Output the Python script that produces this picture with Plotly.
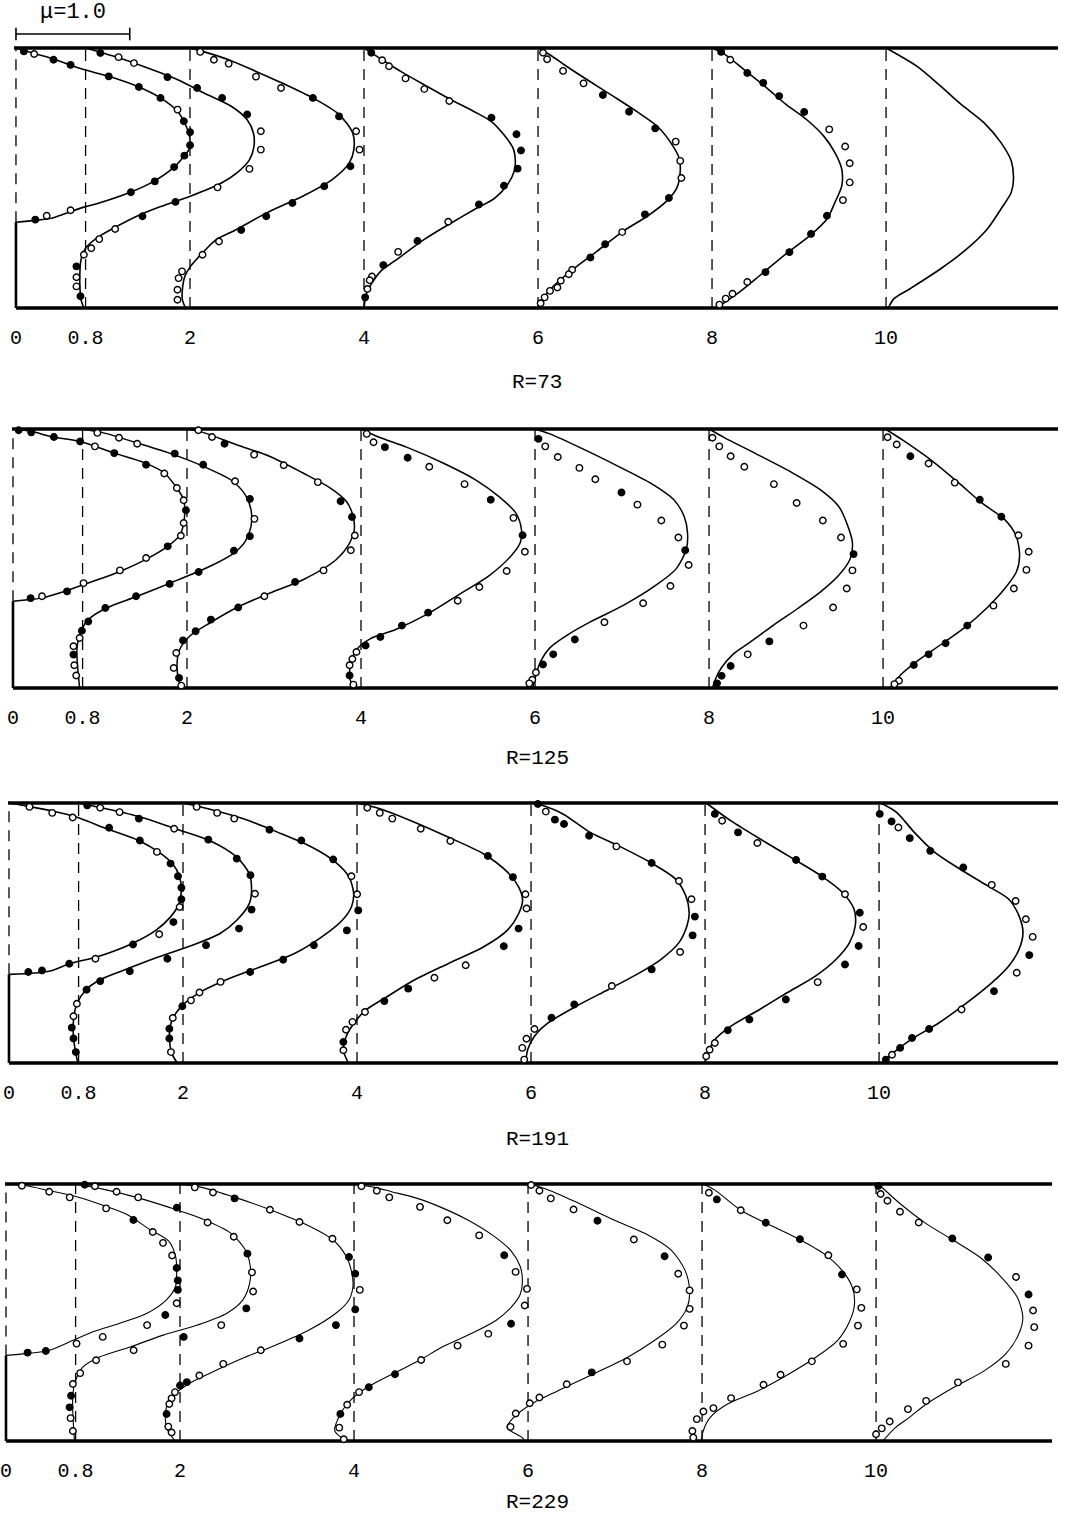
import plotly.graph_objects as go

# ---------------- data ----------------
STATIONS = [0, 0.8, 2, 4, 6, 8, 10]
TICK_TEXT = ["0", "0.8", "2", "4", "6", "8", "10"]
R_LABELS = ["R=73", "R=125", "R=191", "R=229"]
STEP_ETA = [0.33, 0.335, 0.341, 0.333]
MU_BAR = 1.0
MU_TEXT = "μ=1.0"

# ----- R=73 -----
R73_CURVE_ETA = [
    [0.33, 0.337, 0.346, 0.359, 0.388, 0.401, 0.445, 0.487, 0.542, 0.583, 0.609, 0.647, 0.70, 0.756, 0.808, 0.85, 0.891, 0.917, 0.955, 0.978, 1.0],
    [0, 0.032, 0.083, 0.135, 0.186, 0.23, 0.27, 0.308, 0.353, 0.39, 0.43, 0.48, 0.52, 0.57, 0.622, 0.673, 0.724, 0.776, 0.827, 0.878, 0.929, 0.968, 1.0],
    [0, 0.032, 0.07, 0.122, 0.16, 0.212, 0.263, 0.30, 0.365, 0.43, 0.494, 0.558, 0.609, 0.673, 0.744, 0.808, 0.865, 0.91, 0.955, 0.987, 1.0],
    [0, 0.054, 0.092, 0.143, 0.181, 0.264, 0.328, 0.379, 0.423, 0.474, 0.526, 0.564, 0.615, 0.666, 0.717, 0.755, 0.80, 0.851, 0.908, 0.966, 1.0],
    [0, 0.022, 0.073, 0.143, 0.219, 0.296, 0.353, 0.411, 0.462, 0.526, 0.577, 0.64, 0.698, 0.755, 0.812, 0.87, 0.927, 0.972, 1.0],
    [0, 0.017, 0.061, 0.125, 0.208, 0.278, 0.342, 0.406, 0.47, 0.534, 0.598, 0.662, 0.725, 0.783, 0.847, 0.91, 0.981, 1.0],
    [0, 0.036, 0.074, 0.151, 0.227, 0.304, 0.381, 0.444, 0.496, 0.566, 0.636, 0.713, 0.783, 0.853, 0.93, 1.0],
]
R73_CURVE_U = [
    [0, 0.17, 0.32, 0.405, 0.595, 0.71, 1.005, 1.21, 1.39, 1.475, 1.52, 1.53, 1.495, 1.42, 1.27, 1.08, 0.815, 0.595, 0.35, 0.17, 0],
    [-0.015, -0.04, -0.05, -0.05, -0.04, 0, 0.10, 0.25, 0.45, 0.66, 0.92, 1.19, 1.33, 1.44, 1.48, 1.475, 1.42, 1.28, 1.04, 0.81, 0.51, 0.25, 0],
    [-0.04, -0.067, -0.067, -0.045, 0.005, 0.11, 0.23, 0.40, 0.67, 0.99, 1.25, 1.40, 1.44, 1.43, 1.31, 1.08, 0.81, 0.58, 0.34, 0.11, 0],
    [0, 0.02, 0.064, 0.15, 0.27, 0.53, 0.77, 0.97, 1.15, 1.26, 1.32, 1.33, 1.31, 1.23, 1.12, 0.97, 0.77, 0.56, 0.33, 0.12, 0],
    [0, 0.023, 0.11, 0.29, 0.52, 0.75, 0.96, 1.13, 1.22, 1.25, 1.24, 1.16, 1.05, 0.87, 0.67, 0.46, 0.26, 0.11, 0],
    [0.035, 0.094, 0.24, 0.42, 0.65, 0.86, 1.01, 1.08, 1.14, 1.14, 1.08, 0.98, 0.83, 0.65, 0.48, 0.30, 0.094, 0],
    [0.02, 0.07, 0.21, 0.48, 0.71, 0.89, 1.01, 1.10, 1.12, 1.10, 1.01, 0.86, 0.66, 0.48, 0.27, 0],
]
R73_PT_ETA = [
    [0.987, 0.977, 0.955, 0.935, 0.891, 0.85, 0.808, 0.763, 0.718, 0.676, 0.626, 0.586, 0.542, 0.487, 0.445, 0.376, 0.355, 0.34],
    [0.981, 0.965, 0.942, 0.888, 0.846, 0.808, 0.744, 0.68, 0.609, 0.535, 0.464, 0.408, 0.353, 0.304, 0.265, 0.23, 0.205, 0.16, 0.118, 0.083, 0.045],
    [0.985, 0.955, 0.94, 0.89, 0.846, 0.808, 0.737, 0.68, 0.609, 0.545, 0.468, 0.404, 0.353, 0.30, 0.256, 0.205, 0.141, 0.115, 0.07, 0.032],
    [0.982, 0.953, 0.93, 0.883, 0.842, 0.796, 0.732, 0.668, 0.606, 0.536, 0.47, 0.398, 0.332, 0.258, 0.216, 0.165, 0.121, 0.107, 0.073, 0.041],
    [0.982, 0.957, 0.912, 0.864, 0.819, 0.755, 0.691, 0.64, 0.566, 0.50, 0.423, 0.36, 0.292, 0.245, 0.194, 0.147, 0.13, 0.105, 0.079, 0.066, 0.041, 0.018],
    [0.985, 0.955, 0.904, 0.866, 0.815, 0.754, 0.687, 0.621, 0.557, 0.483, 0.415, 0.355, 0.285, 0.215, 0.138, 0.10, 0.055, 0.036, 0.013],
    [],
]
R73_PT_U = [
    [0.07, 0.16, 0.33, 0.48, 0.815, 1.08, 1.27, 1.42, 1.475, 1.53, 1.53, 1.48, 1.39, 1.22, 1.01, 0.48, 0.27, 0.17],
    [0.13, 0.29, 0.425, 0.72, 0.98, 1.20, 1.42, 1.54, 1.54, 1.44, 1.16, 0.79, 0.50, 0.26, 0.12, 0.05, -0.015, -0.08, -0.08, -0.08, -0.045],
    [0.09, 0.21, 0.34, 0.58, 0.80, 1.08, 1.31, 1.46, 1.49, 1.41, 1.18, 0.90, 0.67, 0.45, 0.255, 0.11, -0.07, -0.10, -0.11, -0.11],
    [0.064, 0.16, 0.22, 0.365, 0.53, 0.75, 1.12, 1.34, 1.38, 1.35, 1.23, 1.01, 0.74, 0.47, 0.30, 0.17, 0.07, 0.05, 0.03, 0.01],
    [0.044, 0.08, 0.22, 0.40, 0.57, 0.80, 1.03, 1.21, 1.25, 1.26, 1.15, 0.94, 0.74, 0.59, 0.46, 0.30, 0.27, 0.20, 0.17, 0.105, 0.058, 0.023],
    [0.08, 0.16, 0.31, 0.45, 0.59, 0.81, 1.03, 1.17, 1.21, 1.21, 1.15, 1.01, 0.87, 0.68, 0.47, 0.31, 0.18, 0.12, 0.065],
    [],
]
R73_PT_KIND = [
    "fofffffofffffffoof",
    "fooffffooooffoooofoof",
    "oooooffoofffffoooooo",
    "foooooffffffofofooof",
    "oooofffoooffoffooooooo",
    "foffffoooooffffoooo",
    "",
]

# ----- R=125 -----
R125_CURVE_ETA = [
    [0.335, 0.341, 0.347, 0.373, 0.399, 0.45, 0.495, 0.547, 0.592, 0.637, 0.682, 0.727, 0.772, 0.83, 0.869, 0.907, 0.952, 0.969, 0.991, 1.0],
    [0, 0.084, 0.148, 0.212, 0.264, 0.309, 0.354, 0.405, 0.47, 0.521, 0.566, 0.624, 0.689, 0.746, 0.804, 0.856, 0.901, 0.946, 0.985, 1.0],
    [0, 0.019, 0.084, 0.148, 0.20, 0.251, 0.309, 0.367, 0.418, 0.495, 0.56, 0.611, 0.663, 0.721, 0.772, 0.83, 0.894, 0.94, 0.987, 1.0],
    [0, 0.013, 0.051, 0.097, 0.148, 0.19, 0.225, 0.282, 0.358, 0.435, 0.511, 0.562, 0.612, 0.676, 0.74, 0.803, 0.867, 0.93, 0.968, 1.0],
    [0, 0.053, 0.104, 0.155, 0.206, 0.256, 0.32, 0.396, 0.46, 0.536, 0.60, 0.663, 0.727, 0.79, 0.854, 0.924, 0.981, 1.0],
    [0, 0.028, 0.079, 0.13, 0.18, 0.244, 0.307, 0.371, 0.435, 0.498, 0.562, 0.625, 0.701, 0.765, 0.829, 0.905, 0.968, 1.0],
    [0, 0.053, 0.104, 0.168, 0.231, 0.308, 0.384, 0.447, 0.511, 0.587, 0.65, 0.714, 0.79, 0.879, 0.955, 1.0],
]
R125_CURVE_U = [
    [0, 0.13, 0.25, 0.45, 0.62, 0.94, 1.16, 1.36, 1.47, 1.50, 1.51, 1.50, 1.44, 1.33, 1.16, 0.89, 0.59, 0.35, 0.16, 0],
    [-0.026, -0.044, -0.05, -0.02, 0.05, 0.21, 0.48, 0.77, 1.12, 1.33, 1.43, 1.48, 1.48, 1.43, 1.30, 1.06, 0.80, 0.48, 0.185, 0],
    [-0.02, -0.065, -0.088, -0.065, 0.023, 0.20, 0.43, 0.73, 1.02, 1.31, 1.43, 1.47, 1.46, 1.40, 1.26, 1.02, 0.73, 0.43, 0.14, 0],
    [-0.05, -0.08, -0.10, -0.09, -0.04, 0.08, 0.30, 0.57, 0.85, 1.13, 1.32, 1.40, 1.41, 1.36, 1.21, 1.01, 0.73, 0.40, 0.16, 0],
    [-0.02, 0.01, 0.05, 0.13, 0.29, 0.49, 0.78, 1.06, 1.24, 1.33, 1.34, 1.31, 1.22, 1.02, 0.74, 0.415, 0.13, 0],
    [0.03, 0.05, 0.11, 0.21, 0.37, 0.57, 0.78, 0.98, 1.14, 1.24, 1.26, 1.22, 1.14, 0.98, 0.74, 0.41, 0.13, 0],
    [0.06, 0.16, 0.30, 0.51, 0.71, 0.91, 1.07, 1.17, 1.20, 1.17, 1.07, 0.87, 0.67, 0.425, 0.18, 0.02],
]
R125_PT_ETA = [
    [0.995, 0.987, 0.969, 0.952, 0.933, 0.907, 0.862, 0.828, 0.772, 0.725, 0.686, 0.637, 0.588, 0.547, 0.502, 0.454, 0.405, 0.373, 0.354, 0.347],
    [0.985, 0.966, 0.943, 0.905, 0.862, 0.798, 0.73, 0.653, 0.586, 0.53, 0.448, 0.402, 0.354, 0.309, 0.257, 0.221, 0.193, 0.161, 0.129, 0.088, 0.048],
    [0.995, 0.969, 0.943, 0.901, 0.86, 0.795, 0.721, 0.66, 0.589, 0.532, 0.454, 0.409, 0.354, 0.311, 0.264, 0.219, 0.184, 0.135, 0.077, 0.039, 0.009],
    [0.981, 0.949, 0.93, 0.889, 0.854, 0.787, 0.727, 0.657, 0.59, 0.526, 0.452, 0.39, 0.337, 0.291, 0.241, 0.197, 0.164, 0.139, 0.112, 0.088, 0.048, 0.013],
    [0.962, 0.933, 0.892, 0.85, 0.806, 0.755, 0.708, 0.647, 0.581, 0.532, 0.475, 0.394, 0.327, 0.254, 0.187, 0.13, 0.091, 0.06, 0.032, 0.018],
    [0.966, 0.933, 0.895, 0.854, 0.787, 0.714, 0.647, 0.581, 0.517, 0.454, 0.384, 0.311, 0.241, 0.18, 0.13, 0.085, 0.047, 0.018],
    [0.968, 0.94, 0.895, 0.867, 0.793, 0.727, 0.661, 0.59, 0.526, 0.456, 0.384, 0.318, 0.241, 0.173, 0.13, 0.089, 0.028, 0.015],
]
R125_PT_U = [
    [0.05, 0.16, 0.36, 0.59, 0.72, 0.89, 1.17, 1.33, 1.44, 1.50, 1.52, 1.50, 1.475, 1.36, 1.17, 0.94, 0.62, 0.475, 0.255, 0.155],
    [0.13, 0.32, 0.48, 0.81, 1.06, 1.34, 1.47, 1.51, 1.47, 1.33, 1.02, 0.765, 0.47, 0.20, 0.05, -0.006, -0.026, -0.08, -0.08, -0.073, -0.056],
    [0.10, 0.22, 0.33, 0.59, 0.85, 1.15, 1.35, 1.45, 1.475, 1.44, 1.20, 0.95, 0.68, 0.45, 0.21, 0.076, -0.035, -0.094, -0.117, -0.07, -0.05],
    [0.05, 0.11, 0.21, 0.41, 0.60, 0.91, 1.14, 1.34, 1.42, 1.44, 1.28, 1.04, 0.85, 0.59, 0.36, 0.17, 0.04, -0.04, -0.076, -0.10, -0.10, -0.067],
    [0.03, 0.09, 0.20, 0.39, 0.53, 0.76, 0.90, 1.11, 1.26, 1.32, 1.35, 1.19, 0.95, 0.61, 0.35, 0.16, 0.07, 0.008, -0.024, -0.05],
    [0.03, 0.09, 0.19, 0.31, 0.57, 0.77, 1.00, 1.16, 1.27, 1.26, 1.21, 1.09, 0.83, 0.53, 0.34, 0.19, 0.11, 0.07],
    [0.04, 0.12, 0.24, 0.40, 0.63, 0.85, 1.04, 1.19, 1.28, 1.26, 1.15, 0.97, 0.74, 0.55, 0.40, 0.27, 0.14, 0.10],
]
R125_PT_KIND = [
    "ffffoffooofoofooofof",
    "oooffofoffffffffoofoo",
    "oofoooffooofoffffoofo",
    "ooffoofofooooffffooofo",
    "foooofooofoooofffooo",
    "oooooooofoooofofff",
    "oofooffoooooffffoo",
]

# ----- R=191 -----
R191_CURVE_ETA = [
    [0.341, 0.346, 0.356, 0.382, 0.408, 0.459, 0.51, 0.562, 0.613, 0.664, 0.715, 0.765, 0.81, 0.856, 0.901, 0.946, 0.969, 0.987, 1.0],
    [0, 0.036, 0.1, 0.164, 0.228, 0.279, 0.318, 0.356, 0.408, 0.453, 0.497, 0.549, 0.613, 0.664, 0.728, 0.792, 0.856, 0.901, 0.946, 0.978, 1.0],
    [0, 0.036, 0.1, 0.164, 0.215, 0.267, 0.318, 0.369, 0.421, 0.485, 0.549, 0.6, 0.651, 0.715, 0.773, 0.831, 0.888, 0.94, 0.978, 1.0],
    [0, 0.049, 0.1, 0.151, 0.203, 0.254, 0.318, 0.382, 0.446, 0.51, 0.574, 0.626, 0.677, 0.735, 0.805, 0.869, 0.927, 0.978, 1.0],
    [0, 0.051, 0.103, 0.154, 0.219, 0.283, 0.341, 0.398, 0.463, 0.527, 0.578, 0.643, 0.707, 0.771, 0.835, 0.887, 0.958, 0.992, 1.0],
    [0, 0.039, 0.09, 0.141, 0.206, 0.27, 0.334, 0.398, 0.463, 0.527, 0.591, 0.655, 0.717, 0.784, 0.848, 0.932, 1.0],
    [0, 0.039, 0.09, 0.154, 0.231, 0.308, 0.373, 0.437, 0.501, 0.566, 0.63, 0.681, 0.746, 0.81, 0.887, 0.964, 1.0],
]
R191_CURVE_U = [
    [0, 0.23, 0.38, 0.53, 0.77, 1.08, 1.29, 1.42, 1.495, 1.515, 1.50, 1.44, 1.32, 1.14, 0.86, 0.59, 0.38, 0.17, 0],
    [-0.006, -0.024, -0.045, -0.045, -0.015, 0.06, 0.18, 0.39, 0.70, 1.0, 1.24, 1.39, 1.50, 1.52, 1.50, 1.39, 1.15, 0.85, 0.545, 0.24, 0],
    [-0.05, -0.097, -0.12, -0.097, -0.02, 0.13, 0.37, 0.675, 0.98, 1.22, 1.40, 1.48, 1.50, 1.46, 1.34, 1.13, 0.83, 0.525, 0.22, 0],
    [-0.076, -0.12, -0.097, -0.03, 0.076, 0.26, 0.50, 0.80, 1.11, 1.32, 1.42, 1.455, 1.42, 1.32, 1.11, 0.80, 0.50, 0.20, 0],
    [-0.046, -0.03, 0.03, 0.15, 0.40, 0.68, 0.93, 1.14, 1.30, 1.37, 1.39, 1.36, 1.27, 1.05, 0.77, 0.52, 0.28, 0.09, 0.015],
    [0, 0.025, 0.086, 0.225, 0.48, 0.72, 0.97, 1.15, 1.27, 1.32, 1.31, 1.21, 1.03, 0.78, 0.535, 0.225, 0.01],
    [0.03, 0.124, 0.28, 0.525, 0.77, 0.99, 1.14, 1.23, 1.265, 1.23, 1.14, 0.955, 0.71, 0.49, 0.31, 0.154, 0.015],
]
R191_PT_ETA = [
    [0.985, 0.962, 0.944, 0.905, 0.856, 0.812, 0.767, 0.718, 0.674, 0.63, 0.60, 0.542, 0.495, 0.456, 0.401, 0.382, 0.356, 0.35],
    [0.991, 0.982, 0.965, 0.94, 0.901, 0.859, 0.786, 0.722, 0.651, 0.59, 0.517, 0.453, 0.401, 0.353, 0.315, 0.282, 0.228, 0.18, 0.136, 0.094, 0.042],
    [0.985, 0.962, 0.94, 0.897, 0.856, 0.783, 0.718, 0.649, 0.587, 0.51, 0.453, 0.397, 0.35, 0.312, 0.271, 0.241, 0.218, 0.173, 0.132, 0.094, 0.042],
    [0.982, 0.962, 0.94, 0.901, 0.854, 0.796, 0.715, 0.649, 0.594, 0.517, 0.449, 0.376, 0.328, 0.286, 0.238, 0.196, 0.158, 0.128, 0.081, 0.049],
    [0.996, 0.967, 0.936, 0.919, 0.874, 0.833, 0.769, 0.70, 0.63, 0.563, 0.491, 0.427, 0.36, 0.296, 0.225, 0.174, 0.131, 0.093, 0.058, 0.013],
    [0.958, 0.932, 0.887, 0.846, 0.781, 0.717, 0.649, 0.578, 0.523, 0.45, 0.379, 0.311, 0.244, 0.167, 0.126, 0.077, 0.051, 0.026],
    [0.958, 0.929, 0.906, 0.865, 0.816, 0.752, 0.685, 0.623, 0.553, 0.485, 0.415, 0.347, 0.276, 0.206, 0.131, 0.096, 0.058, 0.032, 0.013],
]
R191_PT_U = [
    [0.18, 0.38, 0.56, 0.88, 1.15, 1.30, 1.42, 1.485, 1.515, 1.515, 1.50, 1.445, 1.32, 1.09, 0.76, 0.53, 0.29, 0.17],
    [0.076, 0.19, 0.36, 0.53, 0.84, 1.14, 1.39, 1.51, 1.55, 1.52, 1.41, 1.12, 0.78, 0.45, 0.19, 0.07, -0.015, -0.045, -0.06, -0.045, -0.024],
    [0.12, 0.30, 0.45, 0.76, 1.04, 1.32, 1.48, 1.53, 1.54, 1.44, 1.15, 0.88, 0.59, 0.33, 0.145, 0.07, -0.006, -0.09, -0.12, -0.12, -0.106],
    [0.09, 0.20, 0.31, 0.56, 0.82, 1.15, 1.37, 1.48, 1.49, 1.42, 1.29, 0.955, 0.68, 0.45, 0.24, 0.07, -0.04, -0.097, -0.12, -0.12],
    [0.06, 0.13, 0.21, 0.29, 0.51, 0.75, 1.06, 1.30, 1.41, 1.44, 1.42, 1.31, 1.06, 0.71, 0.38, 0.18, 0.03, -0.04, -0.077, -0.06],
    [0.086, 0.15, 0.29, 0.46, 0.80, 1.03, 1.23, 1.36, 1.39, 1.35, 1.23, 0.99, 0.71, 0.39, 0.20, 0.086, 0.04, 0.01],
    [0.006, 0.11, 0.17, 0.27, 0.45, 0.74, 0.99, 1.20, 1.29, 1.35, 1.32, 1.21, 1.01, 0.725, 0.44, 0.29, 0.185, 0.114, 0.06],
]
R191_PT_KIND = [
    "oooffoffffofofofff",
    "foofofffofffffffoofff",
    "ooofffoofffffooofoffo",
    "oooooffooffooffooofo",
    "fofffofooffofoffoooo",
    "fofoffofoffofffooo",
    "ffofffoooofofofffof",
]

# ----- R=229 -----
R229_CURVE_ETA = [
    [0.333, 0.34, 0.353, 0.392, 0.425, 0.458, 0.497, 0.549, 0.601, 0.654, 0.719, 0.778, 0.824, 0.882, 0.922, 0.954, 0.974, 0.993, 1.0],
    [0, 0.105, 0.183, 0.235, 0.288, 0.327, 0.366, 0.412, 0.451, 0.497, 0.549, 0.614, 0.68, 0.745, 0.81, 0.863, 0.908, 0.948, 0.98, 1.0],
    [0, 0.052, 0.118, 0.17, 0.222, 0.261, 0.32, 0.373, 0.431, 0.497, 0.549, 0.601, 0.654, 0.719, 0.784, 0.85, 0.902, 0.948, 0.987, 1.0],
    [0, 0.04, 0.105, 0.144, 0.183, 0.22, 0.27, 0.315, 0.365, 0.42, 0.47, 0.52, 0.57, 0.62, 0.68, 0.74, 0.80, 0.86, 0.91, 0.945, 0.97, 0.987, 1.0],
    [0, 0.013, 0.052, 0.091, 0.143, 0.195, 0.26, 0.326, 0.391, 0.456, 0.521, 0.586, 0.664, 0.742, 0.807, 0.859, 0.924, 0.977, 1.0],
    [0, 0.039, 0.091, 0.143, 0.195, 0.26, 0.326, 0.391, 0.469, 0.534, 0.599, 0.664, 0.729, 0.788, 0.846, 0.898, 0.977, 1.0],
    [0, 0.052, 0.091, 0.143, 0.208, 0.273, 0.339, 0.417, 0.482, 0.56, 0.638, 0.716, 0.781, 0.846, 0.924, 1.0],
]
R229_CURVE_U = [
    [0, 0.176, 0.38, 0.59, 0.765, 1.0, 1.24, 1.41, 1.49, 1.50, 1.49, 1.43, 1.26, 1.06, 0.82, 0.59, 0.38, 0.18, 0],
    [-0.01, -0.024, -0.024, 0, 0.065, 0.21, 0.48, 0.77, 1.07, 1.33, 1.47, 1.53, 1.535, 1.49, 1.36, 1.12, 0.83, 0.535, 0.24, 0],
    [-0.044, -0.118, -0.126, -0.074, 0.074, 0.25, 0.54, 0.84, 1.13, 1.37, 1.485, 1.52, 1.51, 1.46, 1.34, 1.07, 0.78, 0.485, 0.19, 0],
    [-0.07, -0.17, -0.12, -0.06, 0.03, 0.16, 0.38, 0.58, 0.77, 1.04, 1.25, 1.38, 1.46, 1.48, 1.46, 1.38, 1.22, 1.0, 0.76, 0.55, 0.33, 0.18, 0],
    [-0.03, -0.05, -0.185, -0.127, 0.027, 0.26, 0.57, 0.876, 1.11, 1.30, 1.40, 1.42, 1.38, 1.26, 1.03, 0.76, 0.45, 0.18, 0.008],
    [-0.008, 0.01, 0.07, 0.22, 0.49, 0.76, 1.00, 1.19, 1.30, 1.34, 1.32, 1.23, 1.07, 0.84, 0.57, 0.34, 0.11, 0.01],
    [0.06, 0.17, 0.29, 0.44, 0.68, 0.95, 1.14, 1.255, 1.29, 1.24, 1.10, 0.91, 0.68, 0.44, 0.21, 0.02],
]
R229_PT_ETA = [
    [0.993, 0.97, 0.948, 0.905, 0.86, 0.813, 0.771, 0.722, 0.673, 0.625, 0.588, 0.536, 0.49, 0.451, 0.405, 0.379, 0.35, 0.344],
    [0.997, 0.991, 0.97, 0.948, 0.908, 0.85, 0.795, 0.729, 0.656, 0.582, 0.516, 0.451, 0.405, 0.353, 0.314, 0.264, 0.222, 0.176, 0.131, 0.089, 0.039],
    [0.987, 0.967, 0.944, 0.90, 0.852, 0.787, 0.716, 0.651, 0.588, 0.512, 0.451, 0.399, 0.353, 0.30, 0.255, 0.229, 0.216, 0.19, 0.166, 0.144, 0.105, 0.056, 0.033],
    [0.991, 0.974, 0.948, 0.911, 0.859, 0.80, 0.723, 0.658, 0.592, 0.527, 0.456, 0.417, 0.371, 0.315, 0.26, 0.209, 0.19, 0.141, 0.105, 0.052, 0.007],
    [0.996, 0.974, 0.944, 0.901, 0.857, 0.784, 0.719, 0.651, 0.586, 0.514, 0.449, 0.375, 0.31, 0.267, 0.221, 0.169, 0.147, 0.107, 0.055],
    [0.966, 0.94, 0.898, 0.849, 0.785, 0.723, 0.648, 0.59, 0.518, 0.449, 0.378, 0.31, 0.258, 0.219, 0.167, 0.128, 0.115, 0.085, 0.039, 0.013],
    [0.992, 0.961, 0.935, 0.892, 0.85, 0.788, 0.714, 0.638, 0.57, 0.508, 0.443, 0.371, 0.30, 0.228, 0.156, 0.124, 0.076, 0.049, 0.026],
]
R229_PT_U = [
    [0.14, 0.38, 0.56, 0.88, 1.12, 1.29, 1.38, 1.46, 1.50, 1.51, 1.51, 1.50, 1.40, 1.24, 0.85, 0.62, 0.35, 0.19],
    [0.08, 0.17, 0.36, 0.55, 0.89, 1.16, 1.39, 1.51, 1.55, 1.56, 1.50, 1.28, 0.95, 0.51, 0.18, 0.04, -0.024, -0.04, -0.053, -0.044, -0.024],
    [0.13, 0.29, 0.48, 0.79, 1.05, 1.34, 1.485, 1.54, 1.58, 1.54, 1.37, 1.05, 0.71, 0.38, 0.17, 0.06, 0, -0.044, -0.074, -0.094, -0.118, -0.103, -0.074],
    [0.065, 0.20, 0.31, 0.58, 0.82, 1.10, 1.32, 1.42, 1.52, 1.50, 1.38, 1.18, 0.91, 0.59, 0.36, 0.13, 0.044, -0.06, -0.12, -0.13, -0.09],
    [0.027, 0.10, 0.20, 0.40, 0.61, 0.93, 1.20, 1.32, 1.42, 1.42, 1.37, 1.18, 0.87, 0.56, 0.34, 0.10, 0.015, -0.108, -0.154],
    [0.06, 0.13, 0.34, 0.56, 0.86, 1.11, 1.23, 1.36, 1.40, 1.37, 1.24, 0.965, 0.69, 0.54, 0.255, 0.10, 0.012, -0.046, -0.085, -0.077],
    [0.02, 0.04, 0.10, 0.21, 0.375, 0.67, 0.985, 1.23, 1.34, 1.38, 1.39, 1.34, 1.14, 0.72, 0.44, 0.28, 0.12, 0.05, 0],
]
R229_PT_KIND = [
    "oooofooofffofoooff",
    "fooofoofoofofooooffoo",
    "oofoooffofffoooffooofoo",
    "oooooofooofoooffoofoo",
    "oooofofoooooofooooo",
    "ofoffofooooooooooooo",
    "fooooffofoooooooooo",
]

CURVE_ETA = [R73_CURVE_ETA, R125_CURVE_ETA, R191_CURVE_ETA, R229_CURVE_ETA]
CURVE_U = [R73_CURVE_U, R125_CURVE_U, R191_CURVE_U, R229_CURVE_U]
PT_ETA = [R73_PT_ETA, R125_PT_ETA, R191_PT_ETA, R229_PT_ETA]
PT_U = [R73_PT_U, R125_PT_U, R191_PT_U, R229_PT_U]
PT_KIND = [R73_PT_KIND, R125_PT_KIND, R191_PT_KIND, R229_PT_KIND]

# ---------------- layout geometry (pixels) ----------------
W, H = 1072, 1516
PX_PER_STATION = 87.17
PX_PER_MU = 114.0
K = PX_PER_MU / PX_PER_STATION          # velocity unit -> station units
PANEL_TOP = [48, 429, 803, 1184]
PANEL_BOT = [308, 688, 1063, 1441]
X0_PX = [14, 11, 7, 4]
WALL_LEFT_PX = [12, 10, 6, 3]
WALL_RIGHT_PX = [1058, 1058, 1058, 1052]
PAD_TOP = [30, 6, 6, 6]
PAD_BOT = 6
LABEL_DY = [75, 70, 76, 61]
CURVE_W = [1.6, 1.5, 1.6, 1.1]
MONO = "Liberation Mono, DejaVu Sans Mono, monospace"

fig = go.Figure()
layout = dict(
    width=W, height=H, margin=dict(l=0, r=0, t=0, b=0),
    paper_bgcolor="white", plot_bgcolor="white", showlegend=False,
)
annotations = []

for p in range(4):
    T, B = PANEL_TOP[p], PANEL_BOT[p]
    Hp = B - T
    d_top = T - PAD_TOP[p]
    d_bot = B + PAD_BOT
    xa = "x" if p == 0 else f"x{p+1}"
    ya = "y" if p == 0 else f"y{p+1}"
    xkey = "xaxis" if p == 0 else f"xaxis{p+1}"
    ykey = "yaxis" if p == 0 else f"yaxis{p+1}"
    x0 = X0_PX[p]
    layout[xkey] = dict(
        domain=[0, 1], anchor=ya, range=[-x0 / PX_PER_STATION, (W - x0) / PX_PER_STATION],
        showgrid=False, zeroline=False, showline=False,
        tickmode="array", tickvals=STATIONS, ticktext=TICK_TEXT,
        ticks="outside", ticklen=5, tickcolor="rgba(0,0,0,0)",
        ticklabeloverflow="allow",
        tickfont=dict(family=MONO, size=20, color="black"),
    )
    layout[ykey] = dict(
        domain=[1 - d_bot / H, 1 - d_top / H],
        range=[(B - d_bot) / Hp, (B - d_top) / Hp],
        visible=False, showgrid=False, zeroline=False,
    )

    xl = -(x0 - WALL_LEFT_PX[p]) / PX_PER_STATION
    xr = (WALL_RIGHT_PX[p] - x0) / PX_PER_STATION

    # station dashed lines
    for s in STATIONS:
        y_lo = STEP_ETA[p] if s == 0 else 0
        fig.add_trace(go.Scatter(
            x=[s, s], y=[y_lo, 1], mode="lines", xaxis=xa, yaxis=ya,
            line=dict(color="black", width=1.3, dash="11px,8px"), hoverinfo="skip"))

    # computed profiles
    for si, s in enumerate(STATIONS):
        etas = CURVE_ETA[p][si]
        us = CURVE_U[p][si]
        fig.add_trace(go.Scatter(
            x=[s + u * K for u, e in zip(us, etas, strict=True)], y=etas,
            mode="lines", xaxis=xa, yaxis=ya,
            line=dict(color="black", width=CURVE_W[p], shape="spline", smoothing=0.8),
            hoverinfo="skip"))

    # walls and step
    fig.add_trace(go.Scatter(x=[xl, xr], y=[1, 1], mode="lines", xaxis=xa, yaxis=ya,
                             line=dict(color="black", width=3.6), hoverinfo="skip"))
    fig.add_trace(go.Scatter(x=[0, xr], y=[0, 0], mode="lines", xaxis=xa, yaxis=ya,
                             line=dict(color="black", width=3.6), hoverinfo="skip"))
    fig.add_trace(go.Scatter(x=[0, 0], y=[0, STEP_ETA[p]], mode="lines", xaxis=xa, yaxis=ya,
                             line=dict(color="black", width=2.6), hoverinfo="skip"))

    # measured points
    for si, s in enumerate(STATIONS):
        etas = PT_ETA[p][si]
        us = PT_U[p][si]
        kinds = PT_KIND[p][si]
        for kind in ("o", "f"):
            sel = [(s + u * K, e) for u, e, k in zip(us, etas, kinds, strict=True) if k == kind]
            if not sel:
                continue
            fig.add_trace(go.Scatter(
                x=[a for a, b in sel], y=[b for a, b in sel], mode="markers",
                xaxis=xa, yaxis=ya, cliponaxis=False,
                marker=dict(symbol="circle", size=6.5,
                            color="white" if kind == "o" else "black",
                            line=dict(color="black", width=1.4)),
                hoverinfo="skip"))

    # Reynolds label
    annotations.append(dict(
        text=R_LABELS[p], xref="paper", yref="paper", x=536 / W, y=1 - (B + LABEL_DY[p]) / H,
        showarrow=False, xanchor="center", yanchor="middle",
        font=dict(family=MONO, size=21, color="black")))

    if p == 0:
        eta_bar = (B - 34) / Hp
        fig.add_trace(go.Scatter(
            x=[0, MU_BAR * K], y=[eta_bar, eta_bar], mode="lines+markers",
            xaxis=xa, yaxis=ya, cliponaxis=False,
            line=dict(color="black", width=1.6),
            marker=dict(symbol="line-ns-open", size=9, color="black", line=dict(color="black", width=1.6)),
            hoverinfo="skip"))
        annotations.append(dict(
            text=MU_TEXT, xref="x", yref="paper", x=MU_BAR * K / 2, y=1 - 13 / H,
            showarrow=False, xanchor="center", yanchor="middle",
            font=dict(family=MONO, size=22, color="black")))

layout["annotations"] = annotations
fig.update_layout(**layout)
fig.write_html(
    "out.html",
    config={"displayModeBar": False, "staticPlot": True},
    post_script="document.body.style.margin='0px';document.body.style.overflow='hidden';",
)
